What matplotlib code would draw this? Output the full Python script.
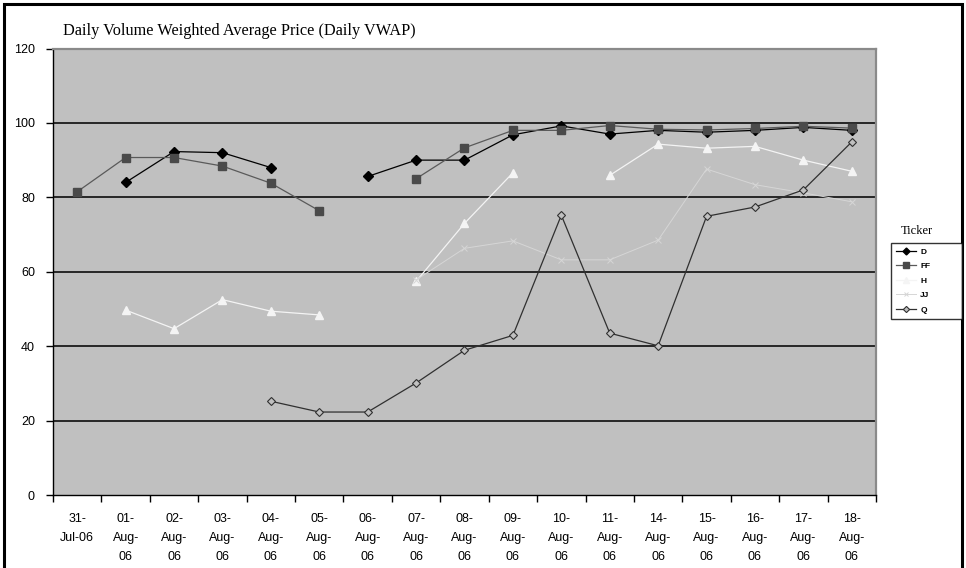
import numpy as np
import matplotlib.pyplot as plt
from matplotlib.patches import Rectangle
from matplotlib.lines import Line2D
from matplotlib.ticker import FixedLocator

nan = np.nan

dates = ["31-\nJul-06", "01-\nAug-\n06", "02-\nAug-\n06", "03-\nAug-\n06", "04-\nAug-\n06",
         "05-\nAug-\n06", "06-\nAug-\n06", "07-\nAug-\n06", "08-\nAug-\n06", "09-\nAug-\n06",
         "10-\nAug-\n06", "11-\nAug-\n06", "14-\nAug-\n06", "15-\nAug-\n06", "16-\nAug-\n06",
         "17-\nAug-\n06", "18-\nAug-\n06"]

vwap_d = [nan, 84.0, 92.3, 92.0, 88.0, nan, 85.6, 90.0, 90.0, 96.8, 99.2, 97.0, 98.0, 97.5, 98.0, 98.8, 98.0]
vwap_ff = [81.5, 90.7, 90.7, 88.4, 83.8, 76.4, nan, 85.0, 93.3, 98.0, 98.0, 99.3, 98.3, 98.1, 98.5, 99.1, 98.6]
vwap_h = [nan, 49.7, 44.7, 52.5, 49.4, 48.4, nan, 57.4, 73.0, 86.6, nan, 85.9, 94.3, 93.2, 93.7, 90.0, 87.0]
vwap_jj = [nan, nan, nan, nan, nan, nan, nan, 57.8, 66.3, 68.3, 63.2, 63.2, 68.5, 87.6, 83.4, 81.2, 78.8]
vwap_q = [nan, nan, nan, nan, 25.2, 22.3, 22.3, 30.1, 38.9, 42.9, 75.2, 43.5, 40.1, 74.9, 77.4, 82.0, 94.9]

tickers = ["D", "FF", "H", "JJ", "Q"]

plt.rcParams['font.family'] = ['Liberation Sans', 'DejaVu Sans']

W, H = 966, 568
fig = plt.figure(figsize=(W / 100, H / 100), dpi=100, facecolor='white')
ax = fig.add_axes([53 / W, 1 - 495 / H, (876 - 53) / W, (495 - 48.5) / H])
ax.set_facecolor('#c0c0c0')

x = np.arange(len(dates))

# series styles (Excel greyscale look)
styles = [
    dict(color='black', marker='D', ms=5, mfc='black', mec='black', lw=0.9),
    dict(color='#5a5a5a', marker='s', ms=5.5, mfc='#4a4a4a', mec='#4a4a4a', lw=0.9),
    dict(color='#f4f4f4', marker='^', ms=6, mfc='#f4f4f4', mec='#f4f4f4', lw=0.9),
    dict(color='#d6d6d6', marker='x', ms=4, mfc='#d6d6d6', mec='#d6d6d6', lw=0.7, mew=0.7),
    dict(color='#303030', marker='D', ms=4.5, mfc='#c0c0c0', mec='#303030', lw=0.9, mew=0.8),
]
series = [vwap_d, vwap_ff, vwap_h, vwap_jj, vwap_q]

for yy in [20, 40, 60, 80, 100]:
    ax.axhline(yy, color='#1a1a1a', lw=1.3, zorder=1)

handles = []
for vals, st, name in zip(series, styles, tickers):
    ax.plot(x, vals, zorder=3, **st)
    handles.append(Line2D([], [], label=name, **st))

ax.set_xlim(-0.5, len(dates) - 0.5)
ax.set_ylim(0, 120)
ax.set_yticks(range(0, 121, 20))
ax.tick_params(axis='y', direction='out', length=5, width=1, pad=8, labelsize=9, color='black')

ax.set_xticks(x)
ax.set_xticklabels(dates, fontsize=9, linespacing=1.8)
ax.tick_params(axis='x', which='major', length=0, pad=13)
ax.xaxis.set_minor_locator(FixedLocator(np.arange(-0.5, len(dates), 1.0)))
ax.tick_params(axis='x', which='minor', direction='out', length=5, width=1, color='black')

for side in ['top', 'right']:
    ax.spines[side].set_color('#8a8a8a')
    ax.spines[side].set_linewidth(1.6)
for side in ['left', 'bottom']:
    ax.spines[side].set_color('black')
    ax.spines[side].set_linewidth(1.0)

fig.text(63 / W, 1 - 31 / H, "Daily Volume Weighted Average Price (Daily VWAP)",
         family='Liberation Serif', fontsize=11.7, va='center', ha='left')

fig.text(917 / W, 1 - 231 / H, "Ticker", family='Liberation Serif', fontsize=9,
         va='center', ha='center')
leg = fig.legend(handles=handles, loc='upper left',
                 bbox_to_anchor=(891 / W, 1 - 319 / H, 71 / W, 76 / H),
                 mode='expand', borderaxespad=0, fontsize=6, handlelength=2.4,
                 labelspacing=0.8, borderpad=0.6, handletextpad=0.5, fancybox=False,
                 frameon=True, markerscale=0.7)
leg.get_frame().set_edgecolor('black')
leg.get_frame().set_linewidth(1.0)
for t in leg.get_texts():
    t.set_fontweight('bold')

# outer chart frame
fig.add_artist(Rectangle((3.5 / W, -0.05), 958 / W, 1.05 - 4.5 / H, transform=fig.transFigure,
                         fill=False, ec='black', lw=2.2, clip_on=False))

fig.savefig('out.png', dpi=100, facecolor='white')
